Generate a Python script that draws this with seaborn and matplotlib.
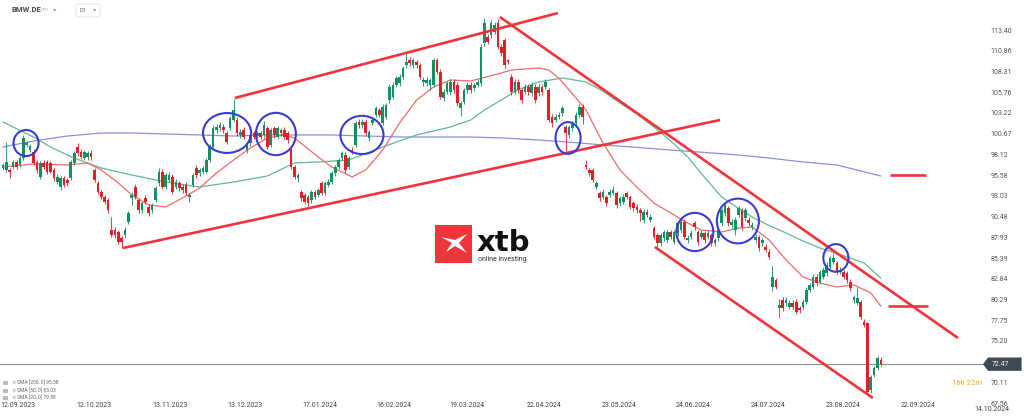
import numpy as np
import pandas as pd
import seaborn as sns
import matplotlib.pyplot as plt
from matplotlib.patches import Ellipse, Polygon, Rectangle, FancyBboxPatch

# Datos diarios BMW.DE (velas)
opens = [96.53, 96.33, 96.33, 96.74, 97.35, 96.94, 97.76, 99.40, 98.79, 98.58,
         97.35, 95.51, 97.15, 97.35, 97.15, 96.33, 94.90, 94.28, 95.31, 95.10,
         95.31, 97.15, 99.20, 98.58, 97.76, 97.97, 98.46, 96.33, 94.69, 93.67,
         93.05, 92.64, 88.96, 88.96, 88.75, 87.93, 88.34, 89.98, 92.85, 94.28,
         92.64, 91.41, 92.85, 91.82, 91.41, 92.64, 94.69, 96.12, 94.28, 95.10,
         95.51, 94.28, 94.69, 94.28, 94.49, 92.97, 94.49, 96.53, 95.92, 96.12,
         96.12, 97.56, 99.20, 101.24, 101.45, 101.65, 100.83, 101.45, 102.47, 102.47,
         100.62, 101.24, 98.78, 99.60, 100.83, 100.50, 100.83, 100.62, 101.44, 99.40,
         101.44, 100.42, 101.24, 101.24, 100.83, 98.78, 96.73, 95.30, 93.66, 93.25,
         93.05, 92.64, 93.66, 93.25, 94.69, 93.46, 94.48, 94.89, 95.91, 96.73,
         97.76, 98.17, 96.73, 98.78, 99.40, 102.26, 101.85, 102.26, 100.21, 102.06,
         103.08, 103.70, 102.06, 102.88, 104.92, 105.33, 106.77, 106.97, 107.79, 109.22,
         109.84, 109.22, 109.63, 109.22, 107.18, 106.97, 106.77, 106.77, 109.84, 108.40,
         105.13, 105.95, 105.95, 107.18, 106.77, 103.90, 104.72, 106.15, 106.77, 106.36,
         106.77, 106.97, 111.89, 112.70, 112.91, 113.32, 114.34, 111.48, 112.30, 109.84,
         107.79, 105.95, 107.18, 106.15, 105.95, 106.56, 105.74, 106.56, 105.74, 106.56,
         106.56, 106.15, 102.88, 102.47, 102.88, 103.29, 101.65, 100.62, 101.44, 102.06,
         103.08, 104.11, 96.94, 96.32, 96.32, 94.28, 93.46, 93.05, 93.05, 93.25,
         93.46, 93.46, 92.23, 92.43, 93.46, 93.05, 92.23, 91.82, 91.41, 90.18,
         91.21, 90.18, 89.16, 88.34, 87.31, 87.93, 87.72, 88.75, 87.52, 88.54,
         88.95, 89.98, 87.72, 88.13, 89.77, 88.75, 88.13, 88.54, 88.13, 88.34,
         87.31, 87.93, 89.77, 91.00, 91.61, 89.57, 88.95, 90.80, 91.41, 90.39,
         90.18, 89.36, 87.72, 88.13, 87.31, 86.91, 86.29, 81.99, 82.81, 79.33,
         80.35, 79.94, 79.54, 79.94, 80.15, 79.33, 79.54, 80.15, 81.58, 81.99,
         83.22, 82.61, 83.22, 83.63, 84.45, 85.06, 84.86, 83.83, 83.83, 83.63,
         82.61, 80.35, 80.03, 80.15, 77.70, 77.49, 69.30, 71.14, 71.96, 73.00]

closes = [96.94, 97.35, 96.12, 97.35, 96.74, 97.76, 100.22, 99.60, 99.28, 97.15,
          96.33, 97.15, 96.74, 96.12, 96.12, 95.31, 95.51, 95.31, 94.49, 94.69,
          97.35, 98.38, 98.38, 97.97, 98.58, 98.38, 97.97, 95.10, 93.67, 93.05,
          92.44, 91.41, 88.34, 88.34, 87.52, 87.52, 88.96, 91.01, 93.26, 93.05,
          91.41, 92.23, 92.44, 91.01, 92.03, 94.08, 96.12, 94.28, 95.72, 95.72,
          93.67, 94.90, 94.08, 93.87, 93.46, 93.26, 95.72, 95.72, 96.33, 96.53,
          97.56, 99.20, 101.45, 101.65, 101.86, 101.24, 99.81, 102.68, 103.70, 100.83,
          101.03, 100.42, 99.60, 100.62, 100.42, 100.83, 100.42, 101.85, 99.19, 101.24,
          100.62, 101.44, 100.83, 100.42, 100.01, 96.73, 95.51, 95.71, 92.84, 92.43,
          92.23, 93.66, 93.05, 93.87, 93.46, 94.69, 94.89, 95.91, 96.73, 97.55,
          98.37, 96.32, 97.76, 98.58, 102.06, 101.85, 102.26, 100.83, 101.03, 102.47,
          103.90, 103.08, 104.11, 104.31, 106.56, 106.77, 107.59, 107.79, 108.81, 109.63,
          109.43, 109.84, 109.22, 107.79, 107.38, 107.38, 107.38, 109.84, 108.40, 105.33,
          105.95, 106.97, 107.18, 106.15, 104.51, 104.51, 106.15, 106.77, 106.15, 106.77,
          107.18, 111.48, 114.34, 112.09, 114.34, 114.14, 111.48, 110.66, 109.22, 109.63,
          105.95, 107.18, 106.15, 104.92, 106.56, 105.95, 106.77, 104.92, 106.56, 105.95,
          107.18, 102.47, 102.06, 102.88, 103.08, 103.90, 100.83, 101.65, 102.06, 103.08,
          104.11, 102.88, 96.73, 95.91, 95.10, 94.69, 92.84, 93.66, 92.23, 93.66,
          93.87, 92.02, 92.84, 93.05, 93.05, 91.82, 91.61, 91.41, 91.00, 91.21,
          90.80, 90.59, 88.13, 87.31, 88.34, 88.75, 88.75, 88.13, 88.75, 89.77,
          89.98, 88.13, 87.93, 88.54, 89.36, 87.52, 88.54, 87.72, 88.54, 87.31,
          87.72, 88.95, 91.41, 92.02, 89.77, 89.98, 90.18, 91.61, 89.36, 91.41,
          89.77, 89.57, 88.13, 86.70, 87.72, 86.50, 85.68, 83.22, 81.99, 79.74,
          79.33, 80.35, 79.94, 79.54, 78.92, 79.13, 80.15, 81.58, 82.20, 83.22,
          82.40, 83.83, 84.04, 84.65, 85.47, 85.47, 83.83, 84.04, 83.22, 82.81,
          81.79, 80.76, 80.56, 78.31, 77.30, 69.09, 70.94, 71.96, 73.19, 72.47]

highs = [97.2, 99.8, 96.6, 97.6, 97.6, 98.0, 100.6, 99.9, 99.5, 98.9,
         97.6, 97.4, 97.5, 97.6, 97.4, 96.6, 95.8, 95.6, 95.6, 95.4,
         97.6, 98.6, 99.6, 98.9, 98.8, 98.7, 98.8, 96.6, 95.0, 93.9,
         93.3, 92.9, 90.6, 89.3, 89.0, 88.2, 89.3, 91.3, 93.6, 94.6,
         92.9, 92.5, 93.2, 92.1, 92.3, 94.3, 96.6, 96.4, 96.0, 96.1,
         95.8, 95.2, 95.0, 94.6, 94.8, 93.5, 96.0, 96.9, 96.6, 96.8,
         97.8, 99.5, 101.8, 102.0, 102.2, 102.0, 101.1, 103.0, 105.1, 102.8,
         101.4, 101.6, 99.9, 100.9, 101.1, 101.1, 101.1, 102.3, 101.7, 101.5,
         101.7, 101.7, 101.5, 101.6, 101.1, 99.1, 97.0, 96.0, 93.9, 93.5,
         93.3, 93.9, 93.9, 94.1, 95.0, 95.0, 95.2, 96.2, 97.0, 97.8,
         98.7, 98.5, 98.0, 99.1, 102.4, 102.6, 102.6, 102.6, 101.3, 102.8,
         104.2, 104.0, 104.4, 104.6, 106.9, 107.1, 107.9, 108.1, 109.1, 110.7,
         110.2, 110.1, 109.9, 109.5, 107.7, 107.7, 107.6, 110.1, 110.1, 108.7,
         106.3, 107.3, 107.5, 107.5, 107.1, 104.8, 106.4, 107.1, 107.1, 107.0,
         107.5, 111.8, 115.0, 113.0, 114.8, 114.5, 114.9, 111.8, 112.6, 110.0,
         108.1, 107.5, 107.5, 106.4, 106.9, 106.9, 107.1, 106.9, 106.9, 106.9,
         107.5, 106.4, 103.2, 103.2, 103.4, 104.2, 101.9, 101.9, 102.4, 103.4,
         104.4, 104.4, 97.5, 96.6, 96.6, 95.0, 93.8, 94.0, 93.3, 94.0,
         94.3, 93.7, 93.1, 93.4, 93.8, 93.3, 92.5, 92.1, 91.7, 91.5,
         91.5, 90.9, 89.5, 88.6, 88.6, 89.0, 89.0, 89.0, 89.0, 90.1,
         90.3, 90.3, 88.3, 88.9, 90.1, 89.0, 88.9, 88.8, 88.9, 88.6,
         88.0, 89.3, 91.7, 92.4, 91.9, 90.3, 90.5, 91.9, 91.7, 91.7,
         90.5, 89.9, 88.5, 88.4, 88.0, 87.2, 86.6, 84.5, 83.1, 80.5,
         80.7, 80.7, 80.3, 80.3, 80.5, 79.6, 80.5, 81.9, 82.5, 83.5,
         83.5, 84.1, 84.4, 85.0, 85.8, 86.1, 85.2, 84.4, 84.1, 83.9,
         82.9, 81.0, 82.0, 80.4, 78.0, 77.7, 71.2, 72.3, 73.5, 73.3]

lows = [96.3, 96.1, 95.3, 96.5, 96.4, 96.7, 97.5, 99.1, 98.5, 96.9,
        96.0, 95.2, 96.4, 95.8, 95.9, 95.0, 94.6, 93.9, 94.2, 94.3,
        95.1, 96.9, 98.1, 97.7, 97.5, 97.6, 97.6, 94.9, 93.4, 92.8,
        92.2, 91.1, 88.1, 88.0, 87.2, 86.8, 88.0, 89.7, 92.0, 92.8,
        91.1, 91.1, 92.1, 90.7, 91.1, 92.4, 94.4, 94.0, 94.0, 94.8,
        93.4, 94.0, 93.8, 93.5, 93.2, 92.4, 94.2, 95.4, 95.6, 95.8,
        95.9, 97.3, 99.0, 100.9, 101.1, 100.9, 99.5, 101.2, 102.2, 100.5,
        100.3, 100.1, 98.4, 99.3, 100.1, 100.2, 100.1, 100.3, 98.9, 99.1,
        100.3, 100.1, 100.5, 100.1, 99.7, 96.4, 95.2, 94.9, 92.5, 92.1,
        91.9, 92.3, 92.8, 93.0, 93.2, 93.2, 94.2, 94.6, 95.6, 96.4,
        97.5, 96.0, 96.4, 98.3, 99.1, 101.5, 101.5, 100.5, 99.9, 101.8,
        102.8, 102.8, 101.8, 102.6, 104.6, 105.0, 106.5, 106.7, 107.5, 108.9,
        109.1, 108.9, 108.9, 107.5, 106.6, 106.7, 106.1, 106.5, 108.1, 105.0,
        104.8, 105.7, 105.6, 105.8, 104.2, 102.9, 104.4, 105.8, 105.8, 106.0,
        106.5, 106.7, 111.6, 111.8, 112.6, 113.0, 111.2, 110.3, 108.9, 109.3,
        105.6, 105.7, 105.8, 104.6, 105.7, 105.6, 105.4, 104.6, 105.4, 105.6,
        106.3, 102.2, 101.6, 102.2, 102.6, 103.0, 98.6, 100.3, 101.1, 101.8,
        102.8, 102.0, 96.5, 95.6, 94.8, 94.0, 92.5, 92.8, 91.9, 93.0,
        93.2, 91.7, 91.9, 92.1, 92.8, 91.5, 91.3, 91.1, 90.0, 89.8,
        90.5, 89.9, 87.8, 86.9, 87.0, 87.6, 87.4, 87.8, 87.2, 88.2,
        88.6, 87.8, 87.4, 87.8, 89.0, 87.1, 87.8, 87.4, 87.8, 87.0,
        87.0, 87.6, 89.5, 90.7, 89.5, 89.2, 88.3, 90.5, 89.0, 90.1,
        89.4, 89.0, 87.4, 86.4, 87.0, 86.2, 85.4, 81.5, 81.7, 78.1,
        79.0, 79.6, 79.2, 79.2, 78.6, 78.8, 79.2, 79.9, 81.3, 81.7,
        82.1, 82.3, 82.9, 83.3, 84.2, 84.8, 83.5, 83.5, 82.9, 82.5,
        81.5, 80.0, 79.8, 78.0, 77.0, 68.9, 68.9, 70.9, 71.7, 72.2]

# Medias móviles (índice de vela, valor)
sma200_idx = [0, 9, 19, 29, 38, 48, 58, 68, 78, 88, 97, 107, 117, 127, 138, 148, 158, 167, 177,
              187, 197, 207, 217, 227, 236, 246, 259]
sma200_val = [99.15, 99.89, 100.50, 100.87, 100.87, 100.75, 100.63, 100.50, 100.63, 100.63, 100.63,
              100.50, 100.38, 100.38, 100.38, 100.25, 100.01, 99.75, 99.40, 99.10, 98.78, 98.48,
              98.17, 97.75, 97.31, 96.94, 95.58]
sma50_idx = [0, 9, 14, 19, 24, 29, 38, 48, 58, 68, 78, 86, 93, 102, 112, 122, 132, 138, 142, 147,
             152, 158, 165, 172, 177, 182, 187, 192, 197, 202, 207, 212, 217, 221, 226, 231, 236,
             241, 245, 249, 254, 259]
sma50_val = [102.22, 100.38, 99.15, 98.17, 97.31, 96.57, 95.71, 94.85, 94.24, 94.85, 95.59, 97.19,
             97.31, 97.55, 99.15, 100.63, 101.61, 102.47, 103.70, 104.92, 106.20, 107.14, 107.63,
             107.14, 106.00, 104.56, 103.20, 101.61, 99.90, 97.92, 95.40, 93.01, 91.60, 90.55,
             89.50, 88.59, 87.60, 86.74, 86.20, 85.64, 84.90, 83.03]
sma20_idx = [0, 9, 19, 25, 29, 34, 38, 43, 48, 53, 58, 63, 68, 73, 78, 83, 86, 93, 97, 103, 107,
             112, 117, 122, 127, 132, 138, 147, 150, 158, 161, 164, 167, 172, 177, 182, 187, 192,
             197, 202, 206, 212, 217, 221, 226, 231, 236, 241, 246, 251, 256, 259]
sma20_val = [96.69, 97.06, 96.94, 97.19, 96.33, 94.73, 93.25, 92.03, 91.78, 92.89, 94.11, 95.96,
             97.55, 99.03, 100.26, 100.63, 100.26, 97.92, 96.69, 95.47, 96.33, 98.78, 102.10,
             104.92, 106.52, 107.38, 107.26, 108.24, 108.61, 108.86, 108.61, 107.60, 106.15,
             103.70, 99.64, 96.33, 94.24, 92.27, 91.04, 89.81, 88.95, 88.71, 89.20, 89.32,
             87.73, 85.27, 83.18, 82.44, 81.95, 82.20, 81.22, 79.58]

# Líneas de tendencia dibujadas (x0, y0, x1, y1)
trend_lines = [(68.4, 105.17, 163.7, 115.61),
               (35.4, 86.74, 211.5, 102.47),
               (146.6, 115.12, 281.7, 75.69),
               (192.3, 86.87, 256.6, 68.32),
               (261.6, 95.75, 272.3, 95.75),
               (261.0, 79.62, 272.9, 79.62)]
# Círculos (centro x, centro y, ancho, alto)
circles = [(6.8, 99.64, 7.4, 3.2), (66.1, 100.87, 14.2, 4.9), (80.5, 100.75, 11.8, 5.2),
           (105.9, 100.63, 12.7, 4.7), (166.7, 100.26, 7.4, 3.9), (204.1, 88.71, 10.9, 4.7),
           (216.8, 90.06, 12.4, 5.5), (245.7, 85.52, 7.4, 3.4)]

price_ticks = [113.40, 110.86, 108.31, 105.76, 103.22, 100.67, 98.12, 95.58, 93.03, 90.48,
               87.93, 85.39, 82.84, 80.29, 77.75, 75.20, 70.11, 67.56]
date_pos = [4.4, 26.8, 49.3, 71.4, 93.5, 115.3, 136.9, 159.6, 181.7, 203.5, 225.7, 247.8, 269.9]
date_labels = ['12.09.2023', '12.10.2023', '13.11.2023', '13.12.2023', '17.01.2024', '16.02.2024',
               '19.03.2024', '22.04.2024', '23.05.2024', '24.06.2024', '24.07.2024', '23.08.2024',
               '22.09.2024']
last_price = 72.47

sns.set_style("white")
plt.rcParams['font.family'] = ['Roboto', 'DejaVu Sans']

fig = plt.figure(figsize=(10.24, 4.17), dpi=100)
ax = fig.add_axes([0, 0, 1, 1])

GREEN = '#158f62'
RED = '#e41e27'

df = pd.DataFrame({'o': opens, 'c': closes, 'h': highs, 'l': lows})
df['i'] = np.arange(len(df))
up = df['c'] >= df['o']
colors = np.where(up, GREEN, RED)

# mechas
ax.vlines(df['i'], df['l'], df['h'], colors=colors, linewidth=0.75, alpha=0.85, zorder=3)
# cuerpos
body = (df['c'] - df['o']).abs().clip(lower=0.15)
ax.bar(df['i'], body, bottom=df[['o', 'c']].min(axis=1), width=0.78, color=colors,
       linewidth=0, zorder=4)

# medias móviles
ma = pd.concat([
    pd.DataFrame({'i': sma200_idx, 'v': sma200_val, 's': 'SMA200'}),
    pd.DataFrame({'i': sma50_idx, 'v': sma50_val, 's': 'SMA50'}),
    pd.DataFrame({'i': sma20_idx, 'v': sma20_val, 's': 'SMA20'}),
])
sns.lineplot(data=ma, x='i', y='v', hue='s', ax=ax, legend=False, zorder=2,
             palette={'SMA200': '#8d90dc', 'SMA50': '#62b892', 'SMA20': '#ee6d6d'},
             linewidth=0.9)

for x0, y0, x1, y1 in trend_lines:
    ax.plot([x0, x1], [y0, y1], color='#f2333b', lw=1.9, solid_capstyle='butt', zorder=5)

for cx, cy, w, h in circles:
    ax.add_patch(Ellipse((cx, cy), w, h, fill=False, ec='#3b3bcf', lw=1.5, zorder=6))

# precio actual
ax.plot([-1, 289.1], [last_price, last_price], color='#8a8f94', lw=0.8, zorder=1)
ax.add_patch(Polygon([(289.1, last_price), (290.6, last_price + 0.82), (300.5, last_price + 0.82),
                      (300.5, last_price - 0.82), (290.6, last_price - 0.82)],
                     closed=True, fc='#3e4953', ec='none', zorder=7))
ax.text(291.6, last_price, f'{last_price:.2f}', color='white', fontsize=5, va='center', ha='left', zorder=8)

for p in price_ticks:
    ax.text(291.4, p, f'{p:.2f}', color='#555555', fontsize=5, va='center', ha='left')
for x, lab in zip(date_pos, date_labels):
    ax.text(x, 67.45, lab, color='#444444', fontsize=5, va='center', ha='center')
ax.text(291.7, 66.95, '14.10.2024', color='#444444', fontsize=5, va='center', ha='center')

ax.set_xlim(-0.885, 301.2)
ax.set_ylim(65.98, 117.21)
ax.set_axis_off()

# cabecera
fig.text(11 / 1024, 1 - 10 / 417, 'BMW.DE', fontsize=5.5, weight='bold', color='#4a4a4a', va='center')
fig.text(41 / 1024, 1 - 10 / 417, 'CFD', fontsize=3.2, color='#aaaaaa', va='center')
fig.text(53 / 1024, 1 - 10 / 417, '▾', fontsize=4.5, color='#999999', va='center', family='DejaVu Sans')
fig.patches.append(FancyBboxPatch((76 / 1024, 1 - 17 / 417), 24 / 1024, 13 / 417,
                                  boxstyle='round,pad=0,rounding_size=0.004', fc='white',
                                  ec='#dddddd', lw=0.6, transform=fig.transFigure))
fig.text(80 / 1024, 1 - 10 / 417, 'D1', fontsize=4, color='#666666', va='center')
fig.text(93 / 1024, 1 - 10 / 417, '▾', fontsize=4.5, color='#999999', va='center', family='DejaVu Sans')

# leyenda de medias
legend_rows = ['SMA [200, 0] 95.58', 'SMA [50, 0] 83.03', 'SMA [20, 0] 79.58']
for k, txt in enumerate(legend_rows):
    yy = 1 - (383 + 7.5 * k) / 417
    fig.patches.append(Rectangle((3 / 1024, yy - 2 / 417), 5 / 1024, 4 / 417, fc='#bbbbbb',
                                 ec='none', transform=fig.transFigure))
    fig.text(11 / 1024, yy, '×', fontsize=4, color='#888888', va='center', family='DejaVu Sans')
    fig.text(17 / 1024, yy, txt, fontsize=3.6, color='#666666', va='center')

fig.text(952 / 1024, 1 - 383 / 417, '16h 22m', fontsize=5.5, color='#f5a623', va='center')

# logo xtb
fig.patches.append(Rectangle((435 / 1024, 1 - 263 / 417), 37 / 1024, 38 / 417, fc='#f0363c',
                             ec='none', transform=fig.transFigure))
fig.patches.append(Polygon([(441 / 1024, 1 - 237 / 417), (452 / 1024, 1 - 243 / 417),
                            (446 / 1024, 1 - 252 / 417), (455 / 1024, 1 - 246 / 417),
                            (467 / 1024, 1 - 253 / 417), (459 / 1024, 1 - 243 / 417),
                            (467 / 1024, 1 - 234 / 417), (455 / 1024, 1 - 240 / 417)],
                           closed=True, fc='white', ec='none', transform=fig.transFigure))
fig.text(477 / 1024, 1 - 251 / 417, 'xtb', fontsize=21, weight='bold', color='#111111',
         va='baseline', family='DejaVu Sans')
fig.text(478 / 1024, 1 - 259.5 / 417, 'online investing', fontsize=5.0, color='#333333', va='center')

plt.savefig('out.png', dpi=100)
